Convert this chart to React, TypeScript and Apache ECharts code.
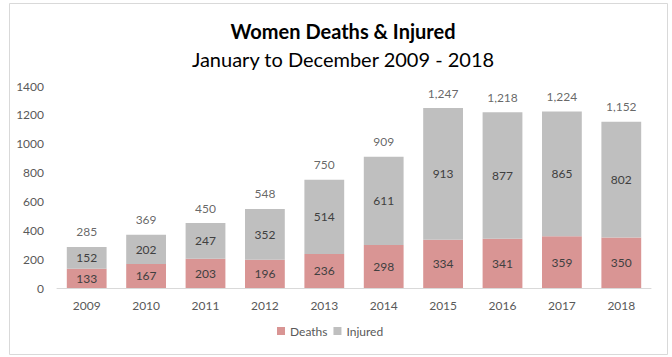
import React, { useEffect, useRef } from "react";
import * as echarts from "echarts";

const years = ["2009", "2010", "2011", "2012", "2013", "2014", "2015", "2016", "2017", "2018"];
const deaths = [133, 167, 203, 196, 236, 298, 334, 341, 359, 350];
const injured = [152, 202, 247, 352, 514, 611, 913, 877, 865, 802];
const totals = [285, 369, 450, 548, 750, 909, 1247, 1218, 1224, 1152];

const FONT = "Lato, 'Open Sans', sans-serif";

export default function App() {
  const ref = useRef<HTMLDivElement>(null);
  useEffect(() => {
    document.body.style.margin = "0";
    const chart = echarts.init(ref.current!, null, { renderer: "svg" });
    chart.setOption({
      animation: false,
      backgroundColor: "#ffffff",
      textStyle: { fontFamily: FONT },
      graphic: [
        {
          type: "rect",
          shape: { x: 9.5, y: 3.5, width: 658, height: 351 },
          style: { fill: "none", stroke: "#d9d9d9", lineWidth: 1 },
          silent: true,
        },
      ],
      title: [
        {
          text: "Women Deaths & Injured",
          left: 338,
          textAlign: "center",
          top: 16,
          textStyle: { fontFamily: FONT, fontSize: 20, fontWeight: "bold", color: "#000000" },
        },
        {
          text: "January to December 2009 - 2018",
          left: 338,
          textAlign: "center",
          top: 44,
          textStyle: { fontFamily: FONT, fontSize: 20, fontWeight: "normal", color: "#000000" },
        },
      ],
      legend: {
        data: ["Deaths", "Injured"],
        bottom: 15,
        left: 272,
        itemWidth: 8,
        itemHeight: 8,
        itemGap: 6,
        icon: "rect",
        textStyle: { fontFamily: FONT, fontSize: 12, color: "#595959" },
      },
      grid: { left: 57, right: 21, top: 86, bottom: 69 },
      xAxis: {
        type: "category",
        data: years,
        axisLine: { lineStyle: { color: "#d9d9d9" } },
        axisTick: { show: false },
        axisLabel: { color: "#595959", fontSize: 12, margin: 11, fontFamily: FONT },
      },
      yAxis: {
        type: "value",
        min: 0,
        max: 1400,
        interval: 200,
        axisLine: { show: false },
        axisTick: { show: false },
        splitLine: { show: false },
        axisLabel: {
          color: "#595959",
          fontSize: 12,
          margin: 13,
          fontFamily: FONT,
          formatter: (v: number) => String(v),
        },
      },
      series: [
        {
          name: "Deaths",
          type: "bar",
          stack: "total",
          barWidth: "67%",
          data: deaths,
          itemStyle: { color: "#d99594" },
          label: { show: true, position: "inside", color: "#404040", fontSize: 12, fontFamily: FONT },
        },
        {
          name: "Injured",
          type: "bar",
          stack: "total",
          barWidth: "67%",
          data: injured,
          itemStyle: { color: "#bfbfbf" },
          label: { show: true, position: "inside", color: "#404040", fontSize: 12, fontFamily: FONT },
        },
        {
          name: "Total",
          type: "scatter",
          data: totals,
          symbol: "circle",
          symbolSize: 2,
          itemStyle: { color: "rgba(0,0,0,0)" },
          label: {
            show: true,
            position: "top",
            distance: 8,
            color: "#404040",
            fontSize: 12,
            fontFamily: FONT,
            formatter: (p: any) => Number(p.value).toLocaleString("en-US"),
          },
          silent: true,
        },
      ],
    });
    return () => chart.dispose();
  }, []);
  return <div ref={ref} style={{ width: 672, height: 357 }} />;
}
